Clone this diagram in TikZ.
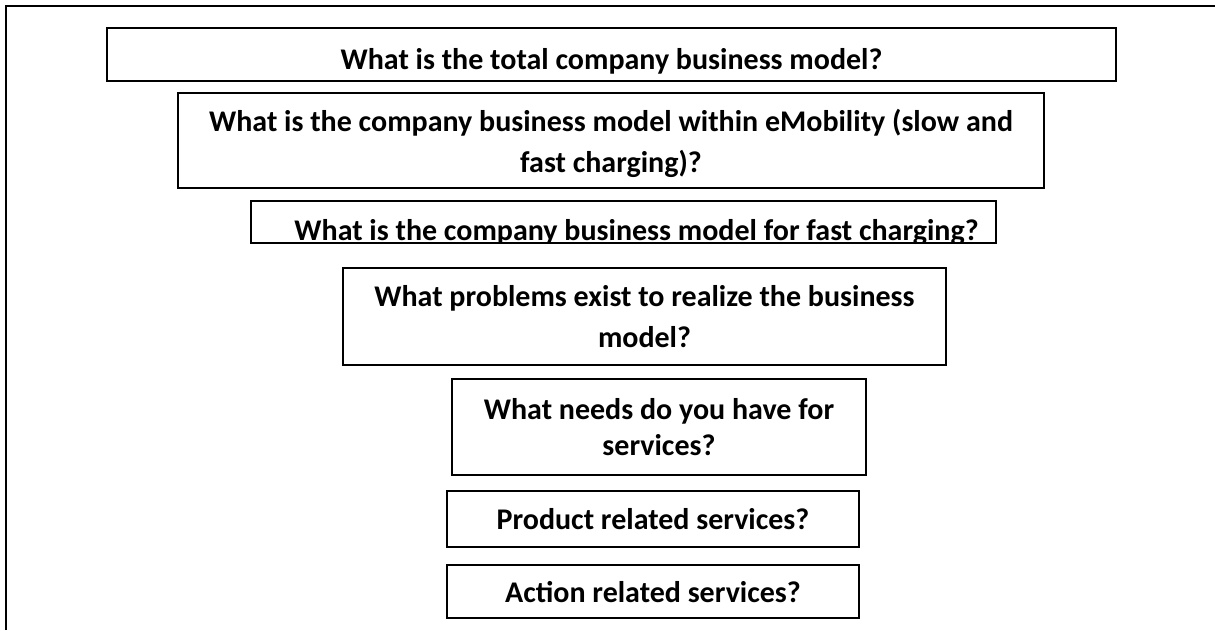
\documentclass[tikz,border=0pt]{standalone}
\usepackage{fontspec}
\setmainfont{Carlito}
\begin{document}
\begin{tikzpicture}[x=1pt,y=-1pt,
  qbox/.style={draw=black,line width=2pt,rectangle,inner sep=0pt},
  qtxt/.style={font=\fontsize{30}{41}\selectfont\bfseries,inner sep=0pt,align=center,anchor=base}]
\useasboundingbox (0,0) rectangle (1215,630);
% outer frame (left and top sides only)
\draw[line width=2pt] (5.5,630) -- (5.5,5.5) -- (1215,5.5);
% boxes
\node[qbox,minimum width=1009pt,minimum height=52.5pt] (b1) at (611.5,54.25) {};
\node[qtxt] (t1) at (611.5,69) {What is the total company business model?};
\node[qbox,minimum width=866pt,minimum height=95pt] (b2) at (611,140.5) {};
\node[qtxt] (t2) at (611,172) {What is the company business model within eMobility (slow and\\fast charging)?};
\node[qbox,minimum width=745pt,minimum height=42pt] (b3) at (623.5,222) {};
\begin{scope}
\clip (251,201) rectangle (996,243);
\node[qtxt] (t3) at (636.5,240) {What is the company business model for fast charging?};
\end{scope}
\node[qbox,minimum width=603pt,minimum height=97pt] (b4) at (644.5,316.5) {};
\node[qtxt] (t4) at (644.5,347) {What problems exist to realize the business\\model?};
\node[qbox,minimum width=414pt,minimum height=96pt] (b5) at (659,427) {};
\node[qtxt,font=\fontsize{30}{36}\selectfont\bfseries] (t5) at (659,455) {What needs do you have for\\services?};
\node[qbox,minimum width=412pt,minimum height=55.5pt] (b6) at (653,518.75) {};
\node[qtxt] (t6) at (653,529) {Product related services?};
\node[qbox,minimum width=412pt,minimum height=53pt] (b7) at (653,591.5) {};
\node[qtxt] (t7) at (653,602) {Action related services?};
\end{tikzpicture}
\end{document}
